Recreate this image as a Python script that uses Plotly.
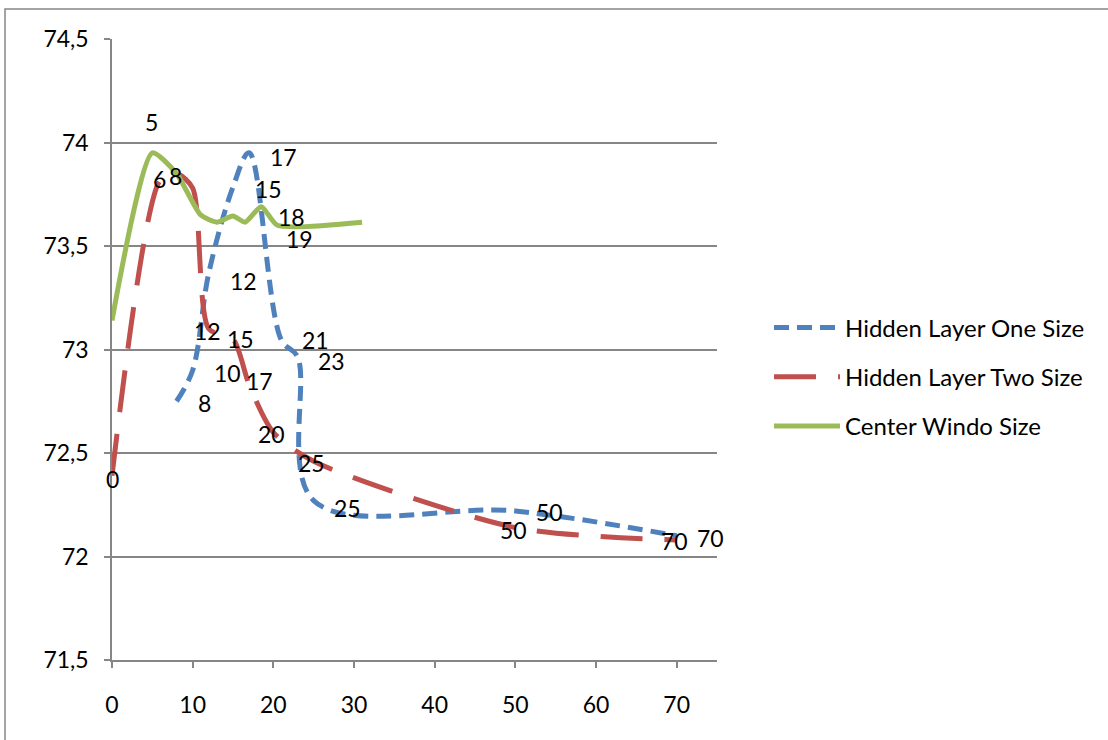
import plotly.graph_objects as go

# ---------------- data ----------------
blue_name = "Hidden Layer One Size"
blue_x = [8, 10, 12, 15, 17, 21, 23, 25, 50, 70]
blue_y = [72.75, 72.90, 73.37, 73.785, 73.95, 73.045, 72.965, 72.27, 72.22, 72.10]
blue_labels = ["8", "10", "12", "15", "17", "21", "23", "25", "50", "70"]

red_name = "Hidden Layer Two Size"
red_x = [0, 6, 8, 10, 12, 15, 17, 20, 25, 50, 70]
red_y = [72.39, 73.82, 73.85, 73.78, 73.10, 73.05, 72.83, 72.60, 72.46, 72.14, 72.08]
red_labels = ["0", "6", "8", "", "12", "15", "17", "20", "25", "50", "70"]

green_name = "Center Windo Size"
green_x = [0, 5, 8, 11, 13, 15, 16.5, 18.5, 20.5, 31]
green_y = [73.14, 73.95, 73.85, 73.65, 73.615, 73.645, 73.615, 73.69, 73.60, 73.615]
green_labels = ["", "5", "", "", "", "", "", "18", "19", ""]

x_ticks = [0, 10, 20, 30, 40, 50, 60, 70]
y_ticks = [71.5, 72, 72.5, 73, 73.5, 74, 74.5]
y_tick_text = ["71,5", "72", "72,5", "73", "73,5", "74", "74,5"]

# ---------------- styles / label offsets (pixels) ----------------
BLUE = "#4F81BD"
RED = "#C0504D"
GREEN = "#9BBB59"
GRID = "#868686"
FONT = "Lato"
FS = 23
LFS = 24

blue_shift = [(28, -2), (35, -3), (35, -8), (35, -2), (34, -4), (34, 0), (34, -4), (34, -7), (34, -1), (34, -2)]
red_shift = [(0, -3), (-1, 1), (-1, -2), (0, 0), (-1, -2), (7, 0), (10, 4), (-2, -2), (-2, -2), (-2, -2), (-2, -1)]
green_shift = [(0, 0), (-1, 31), (0, 0), (0, 0), (0, 0), (0, 0), (0, 0), (30, -10), (22, -14), (0, 0)]

W, H = 1108, 740
ML, MR, MT, MB = 112, W - 717, 39, H - 660

fig = go.Figure()
fig.add_trace(go.Scatter(x=blue_x, y=blue_y, name=blue_name, mode="lines",
                         line=dict(color=BLUE, width=5, dash="15px,8px", shape="spline", smoothing=1),
                         legendgroup="a"))
fig.add_trace(go.Scatter(x=red_x, y=red_y, name=red_name, mode="lines",
                         line=dict(color=RED, width=5, dash="42px,22px", shape="spline", smoothing=0.75),
                         legendgroup="b"))
fig.add_trace(go.Scatter(x=green_x, y=green_y, name=green_name, mode="lines",
                         line=dict(color=GREEN, width=5, shape="spline", smoothing=0.6),
                         legendgroup="c"))

annotations = []
for xs, ys, labs, shifts in [(blue_x, blue_y, blue_labels, blue_shift),
                             (red_x, red_y, red_labels, red_shift),
                             (green_x, green_y, green_labels, green_shift)]:
    for xv, yv, t, (dx, dy) in zip(xs, ys, labs, shifts):
        if not t:
            continue
        annotations.append(dict(x=xv, y=yv, xref="x", yref="y", text=t, showarrow=False,
                                xshift=dx, yshift=dy, font=dict(family=FONT, size=FS, color="black")))

pw = W - ML - MR
ph = H - MT - MB
def px2paper_x(p):
    return (p - ML) / pw
def py2paper_y(p):
    return (H - MB - p) / ph

fig.update_layout(
    width=W, height=H,
    margin=dict(l=ML, r=MR, t=MT, b=MB, pad=0),
    paper_bgcolor="white", plot_bgcolor="white",
    font=dict(family=FONT, size=FS, color="black"),
    showlegend=True,
    legend=dict(x=px2paper_x(769), y=py2paper_y(377), xanchor="left", yanchor="middle",
                font=dict(family=FONT, size=LFS, color="black"),
                itemwidth=66, tracegroupgap=15, bgcolor="rgba(0,0,0,0)"),
    annotations=annotations,
    shapes=[dict(type="rect", xref="paper", yref="paper",
                 x0=px2paper_x(5), x1=px2paper_x(1130), y0=py2paper_y(760), y1=py2paper_y(9),
                 line=dict(color=GRID, width=1.5), fillcolor="rgba(0,0,0,0)", layer="below")],
)
fig.update_xaxes(range=[0, 75], tickvals=x_ticks, ticktext=[str(v) for v in x_ticks],
                 showgrid=False, zeroline=False, showline=True, linecolor=GRID, linewidth=1.5,
                 ticks="outside", ticklen=6, tickcolor=GRID, tickwidth=1.5,
                 ticklabelstandoff=18, tickfont=dict(family=FONT, size=FS, color="black"))
fig.update_yaxes(range=[71.5, 74.5], tickvals=y_ticks, ticktext=y_tick_text,
                 showgrid=True, gridcolor=GRID, gridwidth=1.5, zeroline=False,
                 showline=True, linecolor=GRID, linewidth=1.5,
                 ticks="outside", ticklen=6, tickcolor=GRID, tickwidth=1.5,
                 ticklabelstandoff=11, tickfont=dict(family=FONT, size=FS, color="black"))

fig.write_html("out.html")
